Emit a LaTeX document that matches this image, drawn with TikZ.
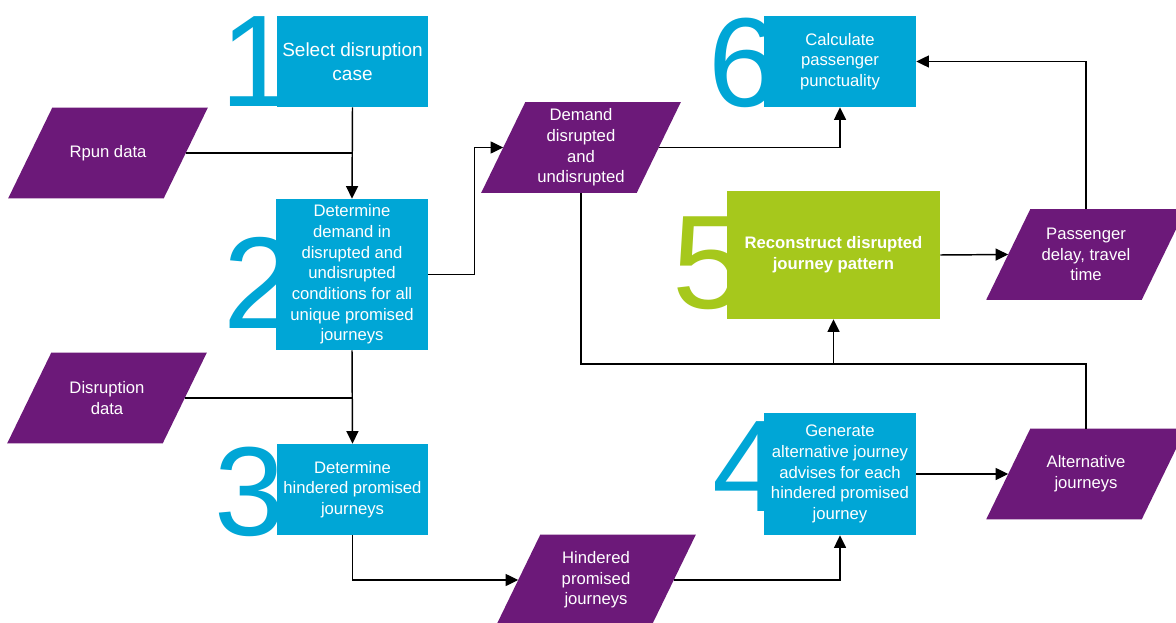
\documentclass[tikz,border=0pt]{standalone}
\usepackage{fontspec}
\setmainfont{Liberation Sans}
\usetikzlibrary{arrows.meta,backgrounds}

\definecolor{procblue}{HTML}{00A6D6}
\definecolor{procgreen}{HTML}{A6C81C}
\definecolor{datapurple}{HTML}{6C1979}

\tikzset{
  x=0.75pt, y=-0.75pt,
  txt/.style={font=\fontsize{12.5pt}{15.5pt}\selectfont},
  procbox/.style={txt, fill=procblue, text=white, align=center, inner sep=2pt},
  greenbox/.style={procbox, fill=procgreen, font=\fontsize{12.5pt}{15.5pt}\selectfont\bfseries},
  databox/.style={txt, text=white, align=center, inner sep=0pt,
                  minimum width=116.25pt, minimum height=67.5pt},
  bignum/.style={anchor=base west, inner sep=0pt, text=procblue},
  link/.style={draw=black, line width=1.1pt},
  flow/.style={link, -{Triangle[length=9.5pt,width=9pt]}},
}

% purple parallelogram behind a data node
\newcommand\datafill[1]{%
  \begin{scope}[on background layer]
    \fill[datapurple]
      ([xshift=16.5pt]#1.north west) -- ([xshift=16.5pt]#1.north east) --
      ([xshift=-16.5pt]#1.south east) -- ([xshift=-16.5pt]#1.south west) -- cycle;
  \end{scope}}

\begin{document}
\begin{tikzpicture}
  \useasboundingbox (0,0) rectangle (1176,623);
  \begin{scope}[on background layer]
    \fill[white] (0,0) rectangle (1176,623);
  \end{scope}

  % large step numbers, partly covered by the boxes
  \node[bignum, font=\fontsize{98pt}{98pt}\selectfont] (n1) at (220,107) {1};
  \node[bignum, font=\fontsize{98pt}{98pt}\selectfont] (n2) at (223,328) {2};
  \node[bignum, font=\fontsize{95pt}{95pt}\selectfont] (n3) at (214.5,535) {3};
  \node[bignum, font=\fontsize{98pt}{98pt}\selectfont] (n4) at (712,511) {4};
  \node[bignum, text=procgreen, font=\fontsize{100pt}{100pt}\selectfont] (n5) at (672,308) {5};
  \node[bignum, font=\fontsize{95pt}{95pt}\selectfont] (n6) at (708,107) {6};

  % process steps
  \node[procbox, font=\fontsize{14.25pt}{18pt}\selectfont,
        minimum width=113.25pt, minimum height=68.25pt] (b1) at (352.5,61.5)
        {Select disruption\\case};
  \node[procbox, minimum width=114pt, minimum height=113.25pt] (b2) at (352,274.5)
        {Determine\\demand in\\disrupted and\\undisrupted\\conditions for all\\unique promised\\journeys};
  \node[procbox, minimum width=113.25pt, minimum height=68.25pt] (b3) at (352.5,489.5)
        {Determine\\hindered promised\\journeys};
  \node[procbox, minimum width=114pt, minimum height=91.5pt] (b4) at (840,474)
        {Generate\\alternative journey\\advises for each\\hindered promised\\journey};
  \node[greenbox, minimum width=159.75pt, minimum height=96pt] (b5) at (833.5,255)
        {Reconstruct disrupted\\journey pattern};
  \node[procbox, minimum width=114pt, minimum height=68.25pt] (b6) at (840,61.5)
        {Calculate\\passenger\\punctuality};

  % data items
  \node[databox] (rpun) at (108,153) {Rpun data};
  \datafill{rpun}
  \node[databox] (disr) at (107,398) {Disruption\\data};
  \datafill{disr}
  \node[databox] (demand) at (581,147.5) {Demand\\disrupted\\and\\undisrupted};
  \datafill{demand}
  \node[databox] (hind) at (596,580) {Hindered\\promised\\journeys};
  \datafill{hind}
  \node[databox] (pass) at (1086,254.5) {Passenger\\delay, travel\\time};
  \datafill{pass}
  \node[databox] (alt) at (1086,474) {Alternative\\journeys};
  \datafill{alt}

  % connectors
  \coordinate (rpunjoin) at (rpun.east -| b1.south);
  \draw[link] (rpun.east) -- (rpunjoin);
  \draw[flow] (b1.south) -- (b2.north);

  \coordinate (disrjoin) at (disr.east -| b2.south);
  \draw[link] (disr.east) -- (disrjoin);
  \draw[flow] (b2.south) -- (b3.north);

  \draw[flow] (b2.east) -- ++(46,0) |- (demand.west);
  \draw[flow] (demand.east) -| (b6.south);

  \coordinate (busy) at (0,364);
  \coordinate (bus) at (b5.south |- busy);
  \draw[link] (demand.south) |- (bus) -| (alt.north);
  \draw[flow] (bus) -- (b5.south);

  \draw[flow] (b5.east) -- (pass.west);
  \draw[flow] (pass.north) |- (b6.east);

  \draw[flow] (b3.south) |- (hind.west);
  \draw[flow] (hind.east) -| (b4.south);
  \draw[flow] (b4.east) -- (alt.west);
\end{tikzpicture}
\end{document}
